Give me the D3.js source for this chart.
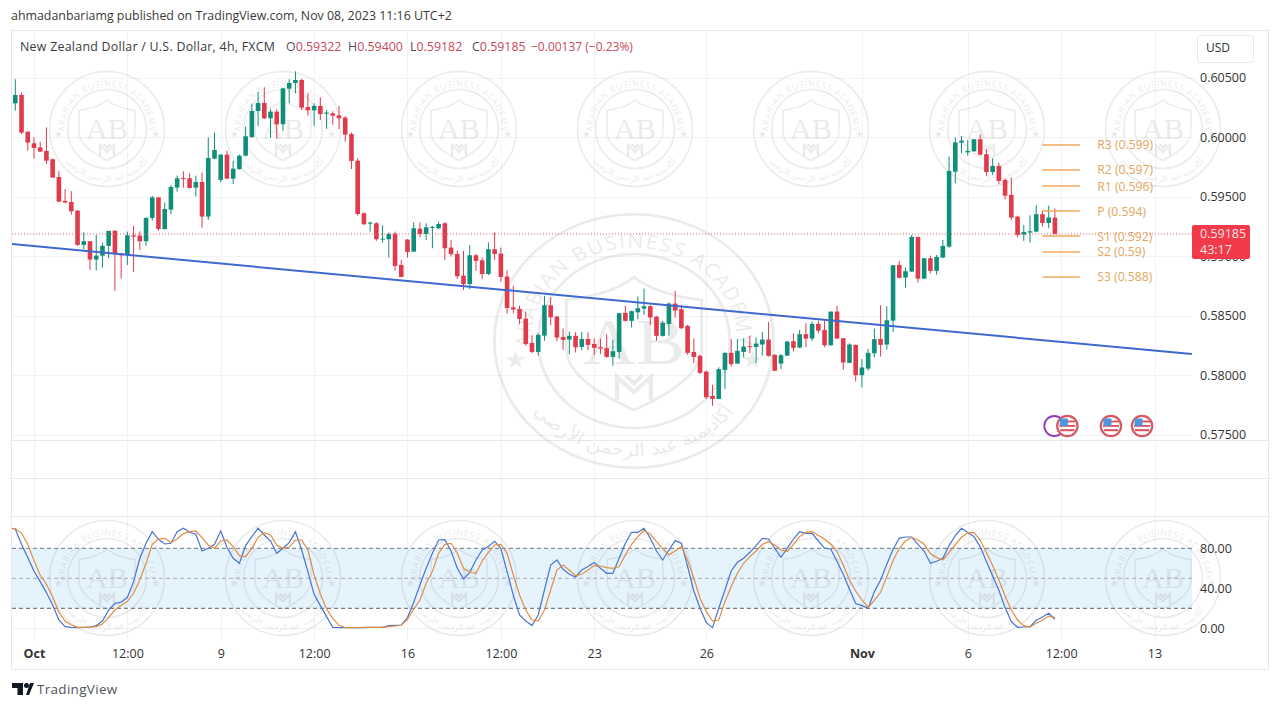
<!DOCTYPE html>
<html>
<head>
<meta charset="utf-8">
<title>NZDUSD 4h</title>
<script src="https://cdn.jsdelivr.net/npm/d3@7"></script>
<style>
  html, body { margin: 0; padding: 0; background: #fff; }
  svg { display: block; font-family: "Open Sans", sans-serif; }
  .axis path, .axis line { display: none; }
</style>
</head>
<body>
<div id="chart"></div>
<script>
// prices are in points (price * 100000), one entry per 4h bar
const opens = [
  60283,60353,60045,59947,59913,59883,59813,59664,59463,59454,
  59381,59093,59124,58970,59003,59085,59213,59023,59006,59174,
  59171,59124,59320,59493,59227,59390,59575,59656,59653,59575,
  59622,59331,59818,59639,59852,59650,59731,59843,60000,60219,
  60286,60157,60213,60107,60406,60454,60479,60252,60224,60261,
  60196,60199,60182,60163,60025,59801,59359,59272,59275,59141,
  59141,59188,58925,59138,59037,59230,59185,59239,59233,59275,
  59071,59017,58835,58765,59006,58964,58849,59057,59020,58827,
  58569,58555,58474,58270,58194,58331,58586,58491,58320,58298,
  58329,58236,58303,58261,58233,58225,58152,58194,58522,58455,
  58527,58558,58578,58491,58329,58429,58600,58553,58413,58194,
  58161,58029,57825,57799,58043,58186,58096,58194,58242,58236,
  58256,58298,58169,58096,58163,58284,58231,58343,58306,58429,
  58379,58250,58533,58309,58102,58253,57998,58054,58183,58303,
  58256,58457,58925,58819,58869,59160,58810,58981,58875,58987,
  59079,59709,59953,59871,59880,59981,59855,59706,59757,59639,
  59513,59331,59180,59197,59205,59351,59278,59322
];
const highs = [
  60485,60375,60045,59997,59961,60081,59818,59715,59563,59544,
  59387,59199,59124,59177,59113,59211,59213,59023,59205,59255,
  59208,59325,59505,59493,59451,59597,59675,59712,59695,59675,
  59701,59997,60037,59855,59885,59801,59852,60087,60280,60381,
  60417,60238,60233,60415,60485,60552,60490,60367,60283,60333,
  60227,60216,60261,60177,60037,59821,59367,59289,59283,59258,
  59199,59205,58967,59143,59283,59283,59275,59253,59289,59283,
  59135,59045,59043,59090,59017,58987,59115,59199,59071,58880,
  58749,58583,58533,58334,58351,58665,58653,58497,58390,58365,
  58359,58362,58359,58309,58306,58343,58298,58519,58581,58541,
  58659,58726,58589,58494,58455,58609,58707,58589,58421,58306,
  58169,58037,57917,58065,58191,58301,58301,58309,58329,58315,
  58362,58446,58175,58177,58287,58351,58379,58435,58449,58457,
  58457,58533,58581,58309,58267,58256,58133,58219,58390,58586,
  58578,58925,58959,58905,59177,59163,58981,59003,59009,59135,
  59835,59997,60009,59975,59983,60020,59897,59821,59785,59653,
  59661,59339,59261,59342,59426,59381,59423,59400
];
const lows = [
  60221,60025,59885,59818,59874,59773,59656,59454,59443,59348,
  59085,59057,58883,58877,58903,58981,58709,58810,58925,58866,
  59051,59085,59297,59213,59219,59353,59541,59575,59566,59499,
  59239,59303,59813,59619,59645,59605,59726,59838,59992,60093,
  60151,59992,59986,60053,60283,60367,60227,60179,60093,60143,
  60070,60104,60067,59961,59731,59339,59261,59205,59127,59113,
  58987,58877,58821,58987,59034,59155,59135,59065,59225,58967,
  58995,58807,58715,58721,58875,58805,58838,58967,58782,58516,
  58519,58427,58247,58183,58163,58287,58418,58284,58211,58175,
  58189,58211,58208,58169,58177,58144,58079,58138,58449,58399,
  58469,58505,58421,58289,58323,58331,58480,58385,58169,58099,
  58009,57799,57741,57797,57883,58071,58091,58147,58183,58102,
  58163,58155,58032,58049,58161,58197,58225,58233,58287,58351,
  58233,58247,58303,58043,58099,57945,57895,58037,58147,58155,
  58214,58362,58813,58735,58866,58777,58807,58855,58844,58981,
  59068,59611,59863,59843,59874,59846,59673,59681,59603,59477,
  59303,59157,59127,59113,59199,59247,59233,59182
];
const closes = [
  60353,60037,59953,59908,59877,59801,59659,59457,59449,59376,
  59093,59124,58970,59003,59085,59211,59017,59006,59174,59163,
  59124,59320,59493,59227,59395,59580,59653,59647,59572,59622,
  59331,59824,59891,59852,59650,59734,59843,60006,60219,60286,
  60157,60213,60107,60409,60454,60479,60247,60224,60261,60193,
  60205,60179,60157,60020,59799,59353,59267,59281,59141,59146,
  59185,58917,58824,59034,59233,59185,59241,59244,59269,59065,
  59015,58830,58763,59006,58959,58849,59057,59017,58824,58564,
  58550,58471,58261,58194,58337,58586,58485,58315,58295,58329,
  58233,58303,58253,58228,58222,58152,58200,58519,58455,58536,
  58561,58578,58483,58329,58438,58600,58541,58393,58186,58152,
  58018,57813,57799,58049,58186,58091,58203,58239,58236,58264,
  58298,58161,58035,58166,58281,58228,58343,58306,58429,58373,
  58250,58533,58306,58105,58256,57998,58063,58186,58301,58253,
  58460,58922,58816,58872,59160,58810,58981,58875,58992,59085,
  59715,59955,59969,59883,59981,59852,59706,59757,59631,59507,
  59323,59177,59202,59208,59351,59278,59323,59185
];

// stochastic, first value belongs to the bar just left of the visible range
const stochK = [
  100,99.3,84,70.7,57.3,46.7,35.7,23.3,8.3,1.7,1,0.7,1,1.3,2.7,7.3,18.3,25,26,30.7,
  46.7,70,85,96.7,89,84.3,85,96.7,100,96,94,77.3,80,84,97.3,81,70,65,82.7,91.7,
  100,93.3,87.3,75,80,85.7,96.7,78.3,56.7,34,22.7,11.7,1,0.7,0.7,0.7,0.7,0.7,1,1,
  1,2.7,3,3.3,10.7,26,43.3,60,75,88.3,88.7,77.3,60,49.3,56,68.3,78.3,81.7,87,80,
  56.7,33,13.3,7.3,2.7,13.3,38.3,63.3,68.3,59,54,51.3,58.3,61.7,65.7,60,55,55,70,85,
  96,96,100,90,77.3,68.3,78.3,87.7,85,61.7,37.3,20,5.7,0.7,20,38.3,57.3,66,70,76,
  82.7,90,89.3,80,71,80,89.3,96.7,95,95,87.3,80,79.3,66.7,54,39,24.7,22.7,20,36.7,
  48.3,64,79,90,91.3,91.3,84,77.3,65,67,70,82.7,92.7,100,95.7,91.7,81.7,66.7,52.3,38,
  20.7,6.7,1,1.3,1.7,8,11.3,15,9
];
const stochD = [
  100,99.7,95,84,67.7,53.3,44,31.3,16,7.3,3.3,1,1,1.3,1.7,4.3,11,18.3,23,26.7,
  35,48.3,65,84,89.3,90,85.7,89.3,94.7,96.7,97.3,90.7,83.3,80,87.3,88.3,81.7,72.7,71.7,80,
  91,95.7,93.3,83.3,80,81,88.3,88.3,78.3,53.3,34.3,19.3,10,3,0.7,0.7,0.7,1,1,1,
  1,1.7,2.3,3,9,19,28.3,45,56.7,75,84,85,75,60,56,55,67.3,76,83.3,84,
  75,53.3,33.3,18.3,8.3,7.3,18.3,38.3,58.3,63.3,58,52.7,54,58.3,62.7,62.3,60.7,60,61.7,73.3,
  84,91.7,97.7,94,86.7,80,73.3,77.3,81.7,68.3,50,30,16.7,7.3,8.3,26.7,41.7,55,65,71.7,
  77.3,84,86.7,83.3,78.3,76.7,84,91.7,96,96.7,92.7,89.3,84,76.7,63.3,48.3,37.3,28.3,21,28,
  36,51.7,67.7,80,87.3,91,88.3,84,74.7,70.7,68.3,76,83.7,91,95.7,95.7,88.3,75.7,62.7,48.3,
  32.3,18.3,8.3,2.7,1.3,5,8.3,12,11
];

// time axis: bar index of each label
const timeTickBars = [3, 18, 33, 48, 63, 78, 93, 111, 136, 153, 168, 183];
const timeTickLabels = ['Oct', '12:00', '9', '12:00', '16', '12:00', '23', '26', 'Nov', '6', '12:00', '13'];
const boldTicks = ['Oct', 'Nov'];

const priceTicks = [0.575, 0.58, 0.585, 0.59, 0.595, 0.6, 0.605];
const stochTicks = [0, 40, 80];

// trend line end points and pivot levels
const trendBars = [-0.7, 189];
const trendPrices = [0.59101, 0.58176];
const pivotNames = ['R3', 'R2', 'R1', 'P', 'S1', 'S2', 'S3'];
const pivotLabels = ['0.599', '0.597', '0.596', '0.594', '0.592', '0.59', '0.588'];
const pivotPrices = [0.59933, 0.59723, 0.59588, 0.59378, 0.59168, 0.59034, 0.58824];
const pivotFromBar = 165;
const pivotToBar = 171;
const pivotLabelBar = 173.8;

const flagEventBars = [169, 176, 181];
const otherEventBars = [166.9];

const legendTitle = 'New Zealand Dollar / U.S. Dollar, 4h, FXCM';
const legendLetters = ['O', 'H', 'L', 'C'];
const legendValues = ['0.59322', '0.59400', '0.59182', '0.59185'];
const legendChange = '\u22120.00137 (\u22120.23%)';
const lastPrice = 0.59185;
const countdown = '43:17';

const W = 1280, H = 708;
const up = '#0f8f7a', down = '#e03b4c';
const grid = '#f1f3f8', border = '#e6e8ee';
const plotLeft = 12, plotRight = 1192;

const svg = d3.select('#chart').append('svg').attr('width', W).attr('height', H);
const defs = svg.append('defs');
defs.append('clipPath').attr('id', 'plot-main').append('rect')
  .attr('x', plotLeft).attr('y', 31).attr('width', plotRight - plotLeft).attr('height', 409);
defs.append('clipPath').attr('id', 'plot-stoch').append('rect')
  .attr('x', plotLeft).attr('y', 517).attr('width', plotRight - plotLeft).attr('height', 124);
defs.append('path').attr('id', 'stamp-top').attr('d', 'M-73,0A73,73 0 0 1 73,0');
defs.append('path').attr('id', 'stamp-bottom').attr('d', 'M-90,0A90,90 0 0 0 90,0');

const x = d3.scaleLinear().domain([0, 167]).range([15.3, 1054.9]);
const y = d3.scaleLinear().domain([0.575, 0.605]).range([434.5, 77.5]);
const yStoch = d3.scaleLinear().domain([0, 100]).range([628.3, 528.3]);

// header text
svg.append('text').attr('x', 11).attr('y', 20).attr('fill', '#3a3a3a').attr('font-size', 12.4)
  .text('ahmadanbariamg published on TradingView.com, Nov 08, 2023 11:16 UTC+2');

// frame and pane separators
svg.append('rect').attr('x', 11.5).attr('y', 30.5).attr('width', 1257).attr('height', 639)
  .attr('fill', '#fff').attr('stroke', border);
svg.selectAll('.sep').data([440, 478, 516]).enter().append('line')
  .attr('x1', 12).attr('x2', 1268).attr('y1', d => d + 0.5).attr('y2', d => d + 0.5).attr('stroke', border);

// grid
const gridG = svg.append('g').attr('stroke', grid);
[[31, 440], [440, 478], [478, 516], [517, 641]].forEach(([a, b]) => {
  gridG.selectAll(null).data(timeTickBars).enter().append('line')
    .attr('x1', d => Math.round(x(d)) + 0.5).attr('x2', d => Math.round(x(d)) + 0.5)
    .attr('y1', a).attr('y2', b);
});
gridG.selectAll(null).data(priceTicks).enter().append('line')
  .attr('x1', plotLeft).attr('x2', plotRight)
  .attr('y1', d => Math.round(y(d)) + 0.5).attr('y2', d => Math.round(y(d)) + 0.5);
gridG.selectAll(null).data(stochTicks).enter().append('line')
  .attr('x1', plotLeft).attr('x2', plotRight)
  .attr('y1', d => Math.round(yStoch(d)) + 0.5).attr('y2', d => Math.round(yStoch(d)) + 0.5);

// stochastic band goes under the watermark
svg.append('rect').attr('x', plotLeft).attr('width', plotRight - plotLeft)
  .attr('y', yStoch(80)).attr('height', yStoch(20) - yStoch(80)).attr('fill', '#e5f3fd');

// watermark stamp
function drawStamp(parent, cx, cy, rx, ry, sw, starY) {
  const g = parent.append('g').attr('transform', `translate(${cx},${cy}) scale(${rx / 100},${ry / 100})`)
    .attr('fill', 'none').attr('stroke', '#8c8c8c').attr('opacity', 0.17);
  g.append('circle').attr('r', 99).attr('stroke-width', sw);
  g.append('circle').attr('r', 68).attr('stroke-width', sw);
  g.append('path').attr('stroke-width', sw)
    .attr('d', 'M-48,-32C-25,-35 -10,-41 0,-50C10,-41 25,-35 48,-32L48,5C48,28 20,44 0,54C-20,44 -48,28 -48,5Z');
  g.append('text').attr('y', 18).attr('text-anchor', 'middle').attr('stroke', 'none').attr('fill', '#8c8c8c')
    .attr('font-family', '"Liberation Serif", serif').attr('font-size', 52).text('AB');
  g.append('path').attr('stroke-width', sw * 1.5)
    .attr('d', 'M-12,46L-12,28L0,40L12,28L12,46M-6,27L0,33L6,27');
  g.append('text').attr('stroke', 'none').attr('fill', '#8c8c8c').attr('font-size', 15)
    .attr('letter-spacing', 1.2)
    .append('textPath').attr('href', '#stamp-top').attr('startOffset', '50%').attr('text-anchor', 'middle')
    .text('ARABIAN BUSINESS ACADEMY');
  g.append('text').attr('stroke', 'none').attr('fill', '#8c8c8c').attr('font-size', 14)
    .attr('font-family', '"DejaVu Sans", sans-serif').attr('direction', 'rtl')
    .append('textPath').attr('href', '#stamp-bottom').attr('startOffset', '50%').attr('text-anchor', 'middle')
    .text('أكاديمية عبد الرحمن الأرضي');
  const star = d3.symbol().type(d3.symbolStar).size(60);
  g.selectAll(null).data([-84, 84]).enter().append('path')
    .attr('d', star()).attr('transform', d => `translate(${d},${starY})`)
    .attr('fill', '#8c8c8c').attr('stroke', 'none');
}
const stampLayer = svg.append('g');
d3.range(107, 1200, 176).forEach(cx => {
  drawStamp(stampLayer, cx, 129, 58, 58, 2.6, 9);
  drawStamp(stampLayer, cx, 578, 58, 58, 2.6, 9);
});
drawStamp(stampLayer, 634, 341, 141, 128, 2, 15);

// candles
const bars = opens.map((o, i) => ({ i, o: o / 1e5, h: highs[i] / 1e5, l: lows[i] / 1e5, c: closes[i] / 1e5 }));
const main = svg.append('g').attr('clip-path', 'url(#plot-main)');
const candle = main.selectAll('.candle').data(bars).enter().append('g').attr('class', 'candle');
candle.append('line')
  .attr('x1', d => x(d.i)).attr('x2', d => x(d.i))
  .attr('y1', d => y(d.h)).attr('y2', d => y(d.l))
  .attr('stroke', d => d.c >= d.o ? up : down).attr('stroke-width', 1);
candle.append('rect')
  .attr('x', d => x(d.i) - 2.3).attr('width', 4.6)
  .attr('y', d => y(Math.max(d.o, d.c)))
  .attr('height', d => Math.max(1, Math.abs(y(d.o) - y(d.c))))
  .attr('fill', d => d.c >= d.o ? up : down);

// last price line
main.append('line').attr('x1', plotLeft).attr('x2', plotRight)
  .attr('y1', y(lastPrice)).attr('y2', y(lastPrice))
  .attr('stroke', '#e0606c').attr('stroke-dasharray', '1 2');

// trend line
main.append('line')
  .attr('x1', x(trendBars[0])).attr('y1', y(trendPrices[0]))
  .attr('x2', x(trendBars[1])).attr('y2', y(trendPrices[1]))
  .attr('stroke', '#3f69cf').attr('stroke-width', 2);

// pivots
const pivots = main.selectAll('.pivot').data(pivotNames).enter().append('g').attr('class', 'pivot');
pivots.append('line')
  .attr('x1', x(pivotFromBar)).attr('x2', x(pivotToBar))
  .attr('y1', (d, i) => y(pivotPrices[i])).attr('y2', (d, i) => y(pivotPrices[i]))
  .attr('stroke', '#efa95c').attr('stroke-width', 1.5);
pivots.append('text')
  .attr('x', x(pivotLabelBar)).attr('y', (d, i) => y(pivotPrices[i]) + 4.5)
  .attr('fill', '#e2a75c').attr('font-size', 12.2)
  .text((d, i) => `${d} (${pivotLabels[i]})`);

// economic event markers
const eventY = 426;
main.selectAll('.ev-other').data(otherEventBars).enter().append('circle')
  .attr('cx', d => x(d)).attr('cy', eventY).attr('r', 10)
  .attr('fill', '#fff').attr('stroke', '#8e3bb5').attr('stroke-width', 1.8);
const flag = main.selectAll('.ev-flag').data(flagEventBars).enter().append('g')
  .attr('transform', d => `translate(${x(d)},${eventY})`);
flag.append('circle').attr('r', 10.2).attr('fill', '#fff').attr('stroke', '#d65a64').attr('stroke-width', 2.2);
flag.append('rect').attr('x', -8).attr('y', -1).attr('width', 16).attr('height', 1.8).attr('fill', '#d9505a');
flag.append('rect').attr('x', -7).attr('y', 3.2).attr('width', 14).attr('height', 2).attr('fill', '#d9505a');
flag.append('rect').attr('x', -1).attr('y', -5.4).attr('width', 9).attr('height', 1.8).attr('fill', '#d9505a');
flag.append('rect').attr('x', -7.5).attr('y', -7.5).attr('width', 8).attr('height', 7.5).attr('fill', '#4f95dd');

// stochastic
const stoch = svg.append('g').attr('clip-path', 'url(#plot-stoch)');
[[80, '#70737e', '4 3'], [50, '#a8abb4', '4 3'], [20, '#5e616c', '4 3']].forEach(([v, c, dash]) => {
  stoch.append('line').attr('x1', plotLeft).attr('x2', plotRight)
    .attr('y1', yStoch(v)).attr('y2', yStoch(v))
    .attr('stroke', c).attr('stroke-dasharray', dash);
});
const stochLine = d3.line().x((d, i) => x(i - 1)).y(d => yStoch(d));
stoch.append('path').attr('d', stochLine(stochK)).attr('fill', 'none')
  .attr('stroke', '#4a74cf').attr('stroke-width', 1.2);
stoch.append('path').attr('d', stochLine(stochD)).attr('fill', 'none')
  .attr('stroke', '#e08e45').attr('stroke-width', 1.2);

// axes
const priceAxis = d3.axisRight(y).tickValues(priceTicks).tickFormat(d3.format('.5f')).tickSize(0).tickPadding(8);
svg.append('g').attr('class', 'axis').attr('transform', `translate(${plotRight},0)`).call(priceAxis)
  .selectAll('text').attr('font-size', 12.5).attr('fill', '#333').attr('font-family', '"Open Sans", sans-serif');
const stochAxis = d3.axisRight(yStoch).tickValues(stochTicks).tickFormat(d3.format('.2f')).tickSize(0).tickPadding(8);
svg.append('g').attr('class', 'axis').attr('transform', `translate(${plotRight},0)`).call(stochAxis)
  .selectAll('text').attr('font-size', 12.5).attr('fill', '#333').attr('font-family', '"Open Sans", sans-serif');
const timeAxis = d3.axisBottom(x).tickValues(timeTickBars)
  .tickFormat((d, i) => timeTickLabels[i]).tickSize(0).tickPadding(0);
svg.append('g').attr('class', 'axis').attr('transform', 'translate(0,649.5)').call(timeAxis)
  .selectAll('text').attr('font-size', 12.5).attr('fill', '#333').attr('font-family', '"Open Sans", sans-serif')
  .attr('font-weight', (d, i) => boldTicks.includes(timeTickLabels[i]) ? 700 : 400);

// price tag
const tag = svg.append('g');
tag.append('rect').attr('x', plotRight).attr('y', 225).attr('width', 58).attr('height', 34).attr('rx', 2).attr('fill', '#f23a4a');
tag.append('text').attr('x', 1200).attr('y', 238).attr('fill', '#fbe3e3').attr('font-size', 12.5).text(d3.format('.5f')(lastPrice));
tag.append('text').attr('x', 1200).attr('y', 254).attr('fill', '#fbe3e3').attr('font-size', 12.5).text(countdown);

// currency box
svg.append('rect').attr('x', 1197.5).attr('y', 35.5).attr('width', 56).attr('height', 27).attr('rx', 3)
  .attr('fill', '#fff').attr('stroke', border);
svg.append('text').attr('x', 1206).attr('y', 52).attr('font-size', 12).attr('fill', '#333').text('USD');

// legend
svg.append('text').attr('x', 20).attr('y', 51).attr('font-size', 12.4).attr('fill', '#3a3a3a')
  .attr('letter-spacing', 0.26).text(legendTitle);
const legendX = d3.scaleLinear().domain([0, 1]).range([286, 348]);
const legend = svg.selectAll('.leg').data(legendLetters).enter().append('text')
  .attr('x', (d, i) => legendX(i)).attr('y', 51).attr('font-size', 12.4).attr('fill', '#55505a');
legend.append('tspan').text(d => d);
legend.append('tspan').attr('fill', '#c8485a').text((d, i) => legendValues[i]);
svg.append('text').attr('x', legendX(4) - 3).attr('y', 51).attr('font-size', 12).attr('fill', '#c8485a').text(legendChange);

// bottom logo
const logo = svg.append('g').attr('fill', '#131722');
logo.append('path').attr('d', 'M12,683H23V695H17.5V688H12Z');
logo.append('circle').attr('cx', 26.5).attr('cy', 685.5).attr('r', 2.5);
logo.append('path').attr('d', 'M28,695L32,683H36L31,695Z').attr('transform', 'translate(-2,0)');
svg.append('text').attr('x', 37).attr('y', 694).attr('font-size', 13.5).attr('fill', '#50535e')
  .attr('letter-spacing', 0.3).text('TradingView');
</script>
</body>
</html>
